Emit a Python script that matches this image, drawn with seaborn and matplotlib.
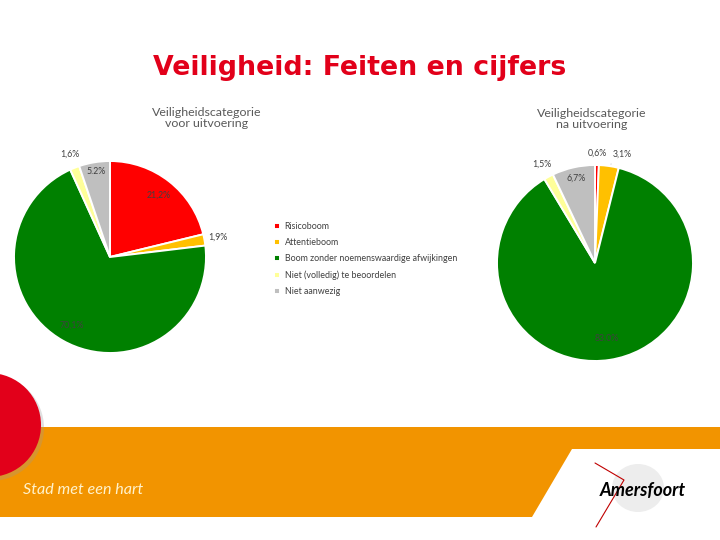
import numpy as np
import matplotlib.pyplot as plt
from matplotlib.patches import Circle, Polygon, Rectangle, Ellipse
import seaborn as sns

# Data
categories = ['Risicoboom', 'Attentieboom',
              'Boom zonder noemenswaardige afwijkingen',
              'Niet (volledig) te beoordelen', 'Niet aanwezig']
colors = ['#FF0000', '#FFC000', '#008000', '#FFFF99', '#BFBFBF']

voor_values = [21.2, 1.9, 70.1, 1.6, 5.2]
voor_labels = ['21,2%', '1,9%', '70,1%', '1,6%', '5.2%']

na_values = [0.6, 3.1, 83.0, 1.5, 6.7]
na_labels = ['0,6%', '3,1%', '83.0%', '1,5%', '6,7%']

sns.set_theme(style='white')
plt.rcParams['font.family'] = ['Lato', 'DejaVu Sans']

W, H = 720, 540
fig = plt.figure(figsize=(7.2, 5.4), dpi=100)

# background layer in pixel coordinates
bg = fig.add_axes([0, 0, 1, 1])
bg.set_xlim(0, W)
bg.set_ylim(H, 0)
bg.axis('off')

bg.add_patch(Rectangle((0, 427), W, 90, color='#F29400', lw=0))
bg.add_patch(Polygon([(572, 449), (W, 449), (W, 517), (532, 517)],
                     closed=True, color='white', lw=0))
bg.add_patch(Circle((-9, 428), 53, color='#999999', alpha=0.3, lw=0))
bg.add_patch(Circle((-11, 425), 52, color='#E2001A', lw=0))

bg.text(360, 68, 'Veiligheid: Feiten en cijfers', ha='center', va='center',
        fontsize=19.3, fontweight='bold', color='#E2001A',
        family=['DejaVu Sans'])
bg.text(23, 490, 'Stad met een hart', ha='left', va='center',
        fontsize=11.6, style='italic', color='#FFF2CC')

# logo: faint emblem, red stroke and name
bg.add_patch(Ellipse((638, 488), 52, 48, color='#EDEDED', lw=0))
bg.text(600, 490, 'Amersfoort', ha='left', va='center', fontsize=13,
        fontweight='bold', style='italic', color='black')
bg.plot([595, 624, 596], [463, 480, 527], color='#C00000', lw=0.8)

bg.text(207, 118, 'Veiligheidscategorie\nvoor uitvoering', ha='center',
        va='center', fontsize=8.9, color='#595959', linespacing=1.1)
bg.text(592, 119, 'Veiligheidscategorie\nna uitvoering', ha='center',
        va='center', fontsize=8.9, color='#595959', linespacing=1.1)


def pie_axes(cx, cy, r):
    return fig.add_axes([(cx - r) / W, 1 - (cy + r) / H, 2 * r / W, 2 * r / H])


def draw_pie(ax, values, labels, radii, leader=None):
    wedges, _ = ax.pie(values, colors=colors, startangle=90,
                       counterclock=False,
                       wedgeprops=dict(edgecolor='white', linewidth=1.4))
    for i, (w, lab, rr) in enumerate(zip(wedges, labels, radii)):
        ang = np.deg2rad((w.theta1 + w.theta2) / 2)
        x, y = np.cos(ang), np.sin(ang)
        if leader == i:
            ax.annotate(lab, xy=(x * 1.0, y * 1.0), xytext=(x * 1.1 + 0.02, y * 1.12),
                        ha='left', va='center', fontsize=6.3, color='#404040',
                        arrowprops=dict(arrowstyle='-', color='#A6A6A6', lw=0.6))
        else:
            ax.text(rr * x, rr * y, lab, ha='center', va='center',
                    fontsize=6.3, color='#404040')
    ax.set_xlim(-1, 1)
    ax.set_ylim(-1, 1)
    ax.set_aspect('equal')
    ax.axis('off')
    return wedges


ax1 = pie_axes(110, 257, 96)
wedges = draw_pie(ax1, voor_values, voor_labels, [0.82, 1.14, 0.82, 1.15, 0.9])

ax2 = pie_axes(595, 263, 98)
draw_pie(ax2, na_values, na_labels, [1.12, 1.15, 0.78, 1.15, 0.89], leader=1)

fig.legend(wedges, categories, loc='upper left',
           bbox_to_anchor=(266 / W, 1 - 214 / H), frameon=False,
           fontsize=6.4, labelspacing=0.8, handlelength=0.7,
           handleheight=0.7, handletextpad=0.5, labelcolor='#404040')

fig.savefig('out.png', dpi=100)
